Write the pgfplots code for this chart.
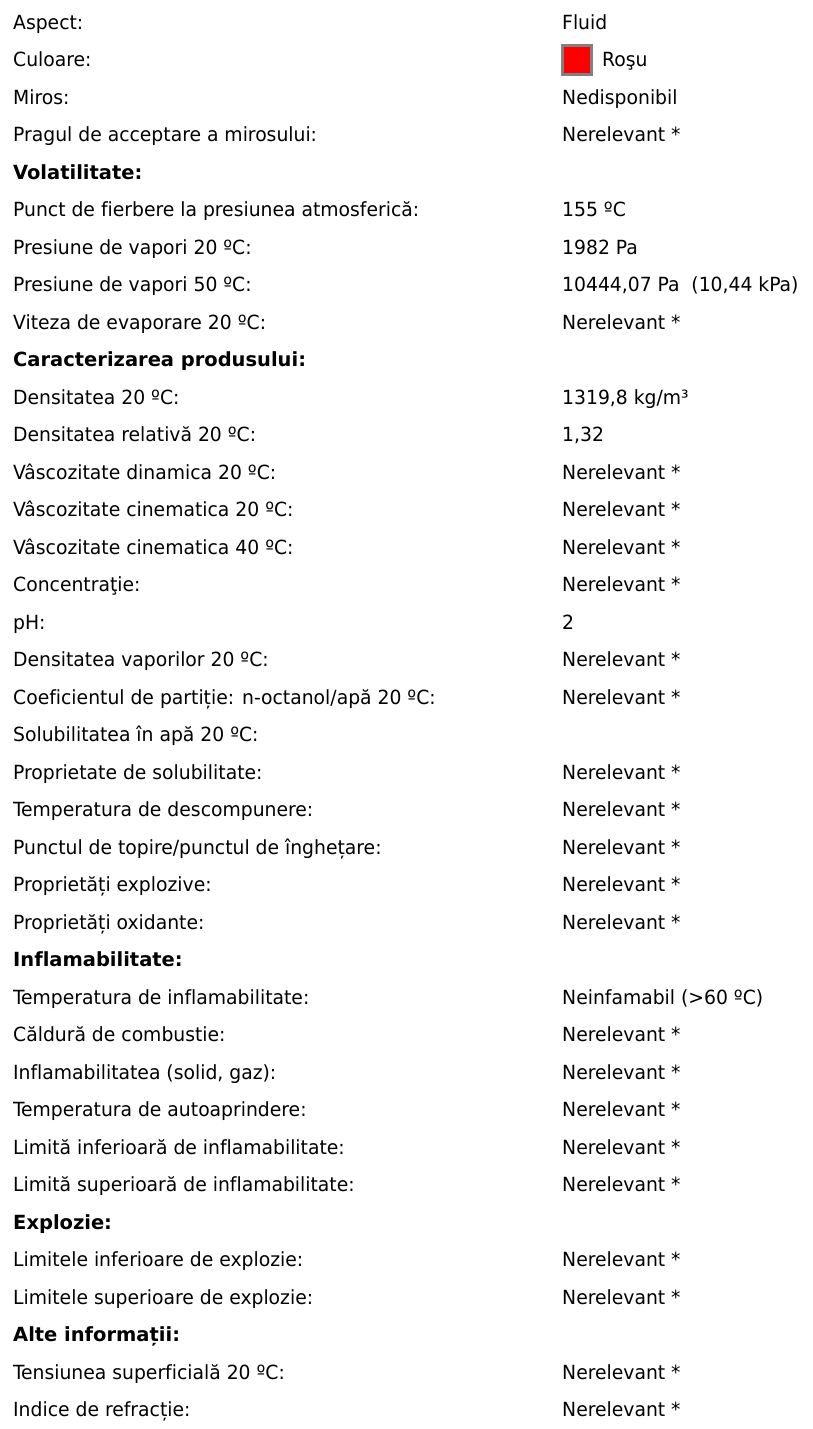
\documentclass[border=0pt]{standalone}
\usepackage{pgfplots}
\pgfplotsset{compat=1.18}
\usepackage{fontspec}
\setmainfont[Ligatures=NoCommon, FakeStretch=1.07, BoldFeatures={FakeStretch=1.11}]{DejaVu Sans Condensed}
\definecolor{swred}{RGB}{255,0,0}
\definecolor{swgray}{RGB}{128,128,128}
\newcommand{\rowy}[1]{29.3+37.5*(#1-1)}
\newcommand{\R}[3]{%
  \node[anchor=base west,inner sep=0pt] at (axis cs:13,{\rowy{#1}}) {#2};
  \node[anchor=base west,inner sep=0pt] at (axis cs:562,{\rowy{#1}}) {#3};}
\newcommand{\Hd}[2]{%
  \node[anchor=base west,inner sep=0pt,font=\fontsize{19.5bp}{22bp}\selectfont\bfseries] at (axis cs:13,{\rowy{#1}}) {#2};}
\begin{document}
\fontsize{19.5bp}{22bp}\selectfont
\begin{tikzpicture}
\begin{axis}[
  scale only axis, width=812bp, height=1429bp,
  xmin=0, xmax=812, ymin=0, ymax=1429, y dir=reverse,
  axis lines=none, ticks=none, clip=false,
  every node/.append style={font=\fontsize{19.5bp}{22bp}\selectfont, text=black},
]
% invisible frame that fixes the picture's extent
\addplot[draw=none, mark=none] coordinates {(0,0) (812,1429)};
% colour swatch
\addplot[only marks, mark=square*, mark size=14.5bp,
  mark options={fill=swred, draw=swgray, line width=2.5bp}]
  coordinates {(577,60)};
\R{1}{Aspect:}{Fluid}
\node[anchor=base west,inner sep=0pt] at (axis cs:13,{\rowy{2}}) {Culoare:};
\node[anchor=base west,inner sep=0pt] at (axis cs:602,{\rowy{2}}) {Roşu};
\R{3}{Miros:}{Nedisponibil}
\R{4}{Pragul de acceptare a mirosului:}{Nerelevant *}
\Hd{5}{Volatilitate:}
\R{6}{Punct de fierbere la presiunea atmosferică:}{155 ºC}
\R{7}{Presiune de vapori 20 ºC:}{1982 Pa}
\R{8}{Presiune de vapori 50 ºC:}{10444,07 Pa\ \ (10,44 kPa)}
\R{9}{Viteza de evaporare 20 ºC:}{Nerelevant *}
\Hd{10}{Caracterizarea produsului:}
\R{11}{Densitatea 20 ºC:}{1319,8 kg/m³}
\R{12}{Densitatea relativă 20 ºC:}{1,32}
\R{13}{Vâscozitate dinamica 20 ºC:}{Nerelevant *}
\R{14}{Vâscozitate cinematica 20 ºC:}{Nerelevant *}
\R{15}{Vâscozitate cinematica 40 ºC:}{Nerelevant *}
\R{16}{Concentraţie:}{Nerelevant *}
\R{17}{pH:}{2}
\R{18}{Densitatea vaporilor 20 ºC:}{Nerelevant *}
\R{19}{Coeficientul de partiție: n-octanol/apă 20 ºC:}{Nerelevant *}
\R{20}{Solubilitatea în apă 20 ºC:}{}
\R{21}{Proprietate de solubilitate:}{Nerelevant *}
\R{22}{Temperatura de descompunere:}{Nerelevant *}
\R{23}{Punctul de topire/punctul de înghețare:}{Nerelevant *}
\R{24}{Proprietăți explozive:}{Nerelevant *}
\R{25}{Proprietăți oxidante:}{Nerelevant *}
\Hd{26}{Inflamabilitate:}
\R{27}{Temperatura de inflamabilitate:}{Neinfamabil (>60 ºC)}
\R{28}{Căldură de combustie:}{Nerelevant *}
\R{29}{Inflamabilitatea (solid, gaz):}{Nerelevant *}
\R{30}{Temperatura de autoaprindere:}{Nerelevant *}
\R{31}{Limită inferioară de inflamabilitate:}{Nerelevant *}
\R{32}{Limită superioară de inflamabilitate:}{Nerelevant *}
\Hd{33}{Explozie:}
\R{34}{Limitele inferioare de explozie:}{Nerelevant *}
\R{35}{Limitele superioare de explozie:}{Nerelevant *}
\Hd{36}{Alte informații:}
\R{37}{Tensiunea superficială 20 ºC:}{Nerelevant *}
\R{38}{Indice de refracție:}{Nerelevant *}
\end{axis}
\end{tikzpicture}
\end{document}
